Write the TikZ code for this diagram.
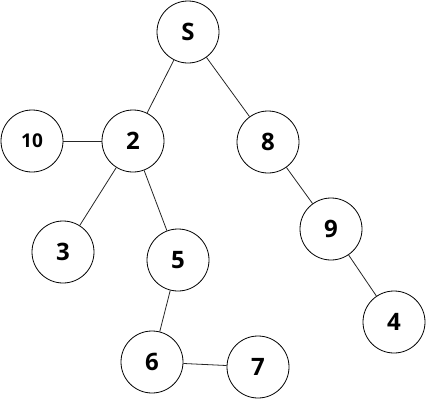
\documentclass[tikz,border=0pt]{standalone}
\usepackage{fontspec}
\setmainfont{Open Sans}
\begin{document}
\begin{tikzpicture}[x=1pt,y=-1pt,
  vtx/.style={circle,draw,line width=0.8pt,minimum size=62pt,inner sep=0pt,font=\bfseries\fontsize{24}{24}\selectfont},
  small/.style={font=\bfseries\fontsize{19}{19}\selectfont},
  edge/.style={line width=0.8pt,draw=black!85}]
\useasboundingbox (0,0) rectangle (426,399);
\node[vtx] (S) at (188,32) {S};
\node[vtx,small] (n10) at (32,141) {10};
\node[vtx] (n2) at (133,141) {2};
\node[vtx] (n8) at (268,142) {8};
\node[vtx] (n3) at (63,252) {3};
\node[vtx] (n5) at (178,260) {5};
\node[vtx] (n9) at (331,229) {9};
\node[vtx] (n4) at (394,322) {4};
\node[vtx] (n6) at (152,362) {6};
\node[vtx] (n7) at (258,367) {7};
\draw[edge] (S) -- (n2);
\draw[edge] (S) -- (n8);
\draw[edge] (n10) -- (n2);
\draw[edge] (n2) -- (n3);
\draw[edge] (n2) -- (n5);
\draw[edge] (n8) -- (n9);
\draw[edge] (n9) -- (n4);
\draw[edge] (n5) -- (n6);
\draw[edge] (n6) -- (n7);
\end{tikzpicture}
\end{document}
